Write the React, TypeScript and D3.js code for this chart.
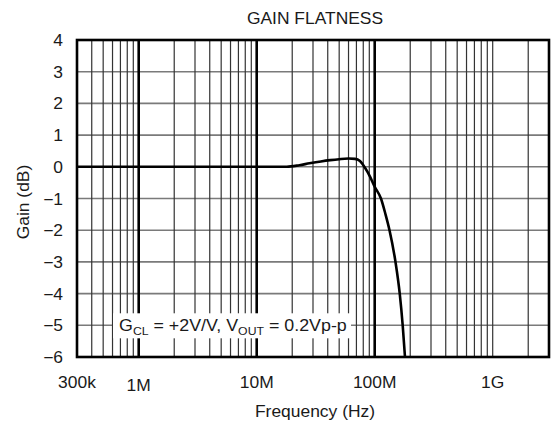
import React from 'react';
import * as d3 from 'd3';

// frequency in MHz, gain in dB
const FREQ_MHZ = [0.3, 1, 5, 10, 18, 23, 28, 35, 42, 50, 60, 68, 75, 83, 91, 100, 113, 123.5, 133.5, 150, 163, 172.7, 180.6];
const GAIN_DB = [0, 0, 0, 0, 0, 0.05, 0.11, 0.17, 0.21, 0.24, 0.26, 0.25, 0.18, -0.04, -0.3, -0.63, -1.0, -1.5, -2.0, -3.0, -4.0, -5.0, -6.0];

const Y_TICKS = [4, 3, 2, 1, 0, -1, -2, -3, -4, -5, -6];
const X_TICKS = [3e5, 1e6, 1e7, 1e8, 1e9];
const X_LABELS = ['300k', '1M', '10M', '100M', '1G'];
const MAJOR = [1e6, 1e7, 1e8];

const W = 552;
const H = 423;
const M = { left: 77, right: 3, top: 40, bottom: 66 };
const FONT = '"Liberation Sans", Arial, sans-serif';
const SX = 1.09; // the reference type is wider than Arial

function Txt({ x, y, size = 16, anchor = 'start', rotate = 0, children }: any) {
  return (
    <text
      transform={`translate(${x},${y}) rotate(${rotate}) scale(${SX},1)`}
      fontSize={size}
      fontFamily={FONT}
      textAnchor={anchor}
      fill="#1a1a1a"
    >
      {children}
    </text>
  );
}

export default function App() {
  const x = d3.scaleLog().domain([3e5, 3e9]).range([M.left, W - M.right]);
  const y = d3.scaleLinear().domain([-6, 4]).range([H - M.bottom, M.top]);

  // every 1..9 x 10^k line inside the domain
  const vLines: number[] = [];
  for (let e = 5; e <= 9; e++) {
    for (let m = 1; m <= 9; m++) {
      const f = m * Math.pow(10, e);
      if (f > 3e5 && f < 3e9) vLines.push(f);
    }
  }

  const line = d3
    .line<number>()
    .x((_, i) => x(FREQ_MHZ[i] * 1e6))
    .y((d) => y(d))
    .curve(d3.curveMonotoneX);

  const [x0, x1] = x.range();
  const [y0, y1] = [y(4), y(-6)];

  return (
    <svg width={W} height={H} style={{ position: 'absolute', left: 0, top: 0, background: '#fff' }}>
      {/* horizontal grid */}
      {Y_TICKS.map((t) => (
        <line key={'h' + t} x1={x0} x2={x1} y1={y(t)} y2={y(t)} stroke="#7a7a7a" strokeWidth={1.6} />
      ))}
      {/* vertical grid */}
      {vLines.map((f) => (
        <line
          key={'v' + f}
          x1={x(f)}
          x2={x(f)}
          y1={y0}
          y2={y1}
          stroke={MAJOR.includes(f) ? '#000' : '#333'}
          strokeWidth={MAJOR.includes(f) ? 2.6 : 1.2}
        />
      ))}

      {/* annotation box */}
      <rect x={113} y={y(-5) - 12} width={238} height={25} fill="#fff" />
      <text x={0} y={0} fontSize={16} fontFamily={FONT} fill="#1a1a1a" transform={`translate(119,${y(-5) + 6}) scale(1.115,1)`}>
        G<tspan fontSize={11} dy={4}>CL</tspan>
        <tspan dy={-4}> = +2V/V, V</tspan>
        <tspan fontSize={11} dy={4}>OUT</tspan>
        <tspan dy={-4}> = 0.2Vp-p</tspan>
      </text>

      {/* response curve */}
      <path d={line(GAIN_DB) || ''} fill="none" stroke="#000" strokeWidth={2.6} />

      {/* frame */}
      <rect x={x0} y={y0} width={x1 - x0} height={y1 - y0} fill="none" stroke="#000" strokeWidth={2.6} />

      {/* y tick labels */}
      {Y_TICKS.map((t) => (
        <Txt key={'yl' + t} x={63} y={y(t) + 6} anchor="end">
          {t < 0 ? '\u2212' + Math.abs(t) : String(t)}
        </Txt>
      ))}
      {/* x tick labels */}
      {X_TICKS.map((t, i) => (
        <Txt key={'xl' + t} x={x(t)} y={i === 1 ? 391 : 388} anchor="middle">
          {X_LABELS[i]}
        </Txt>
      ))}

      <Txt x={315} y={24} anchor="middle">GAIN FLATNESS</Txt>
      <Txt x={315} y={417} anchor="middle">Frequency (Hz)</Txt>
      <Txt x={29} y={202} anchor="middle" rotate={-90}>Gain (dB)</Txt>
    </svg>
  );
}
